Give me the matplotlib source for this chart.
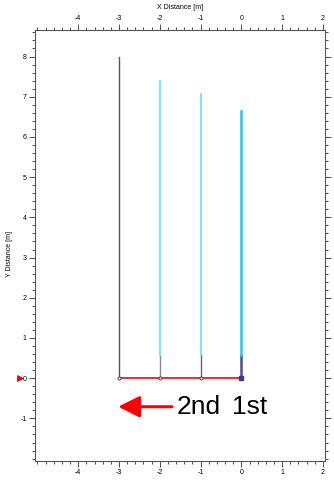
import numpy as np
import matplotlib.pyplot as plt
from matplotlib.ticker import MultipleLocator

plt.rcParams['axes.unicode_minus'] = False
plt.rcParams['font.family'] = ['Liberation Sans', 'DejaVu Sans']

# pile positions and heights
xpos = [-3, -2, -1, 0]
top = [8.0, 7.40, 7.07, 6.64]
base = [8.0, 0.58, 0.58, 0.58]   # lower (embedded) segment top
uppercol = ['#555555', '#7fe6ff', '#5fe0ff', '#22c8f0']
lowercol = ['#555555', '#888888', '#666666', '#4a4aa0']
upperw = [1.0, 1.6, 1.2, 1.8]
xticks = [-4, -3, -2, -1, 0, 1, 2]
yticks = [-1, 0, 1, 2, 3, 4, 5, 6, 7, 8]

fig = plt.figure(figsize=(3.34, 4.80), dpi=100)
ax = fig.add_axes([35/334, 1-461/480, 290/334, 431/480])

for x, t, b, cu, cl, w in zip(xpos, top, base, uppercol, lowercol, upperw):
    ax.plot([x, x], [0, b], color=cl, lw=1.0 if x != 0 else 1.8, zorder=2)
    if t > b:
        ax.plot([x, x], [b, t], color=cu, lw=w, zorder=2)

ax.plot([xpos[0], xpos[-1]], [0, 0], color='red', lw=1.2, zorder=3)
ax.plot(xpos[:-1], [0]*3, 'o', ms=2.2, mfc='white', mec='#444444', mew=0.7, zorder=4)
ax.plot([0], [0], 's', ms=2.5, color='#3a3a90', zorder=4)

# direction arrow and labels
ax.annotate('', xy=(-3.02, -0.71), xytext=(-1.7, -0.71),
            arrowprops=dict(arrowstyle='-|>,head_length=1.3,head_width=0.65',
                            color='red', lw=2.2, shrinkA=0, shrinkB=0))
ax.text(-1.58, -0.71, '2nd', fontsize=19, va='center', ha='left')
ax.text(-0.24, -0.71, '1st', fontsize=19, va='center', ha='left')

# red marker at ground level, outside axis
ax.plot([-5.44], [0], '>', ms=5, color='red', mec='#800000', mew=0.4, clip_on=False)

ax.set_xlim(-5.06, 2.05)
ax.set_ylim(-2.06, 8.66)
ax.set_xticks(xticks)
ax.set_yticks(yticks)
ax.xaxis.set_minor_locator(MultipleLocator(0.2))
ax.yaxis.set_minor_locator(MultipleLocator(0.2))
ax.tick_params(which='both', direction='out', top=True, right=True,
               labeltop=True, labelright=False, labelsize=5, width=0.6,
               color='#333333', pad=2)
ax.tick_params(which='major', length=4)
ax.tick_params(which='minor', length=2)
for sp in ax.spines.values():
    sp.set_color('#555555')
    sp.set_linewidth(0.8)

ax.xaxis.set_label_position('top')
ax.set_xlabel('X Distance [m]', fontsize=5, labelpad=4)
ax.set_ylabel('Y Distance [m]', fontsize=5)
ax.yaxis.set_label_coords(-0.075, 0.48)

fig.savefig('out.png', dpi=100)
